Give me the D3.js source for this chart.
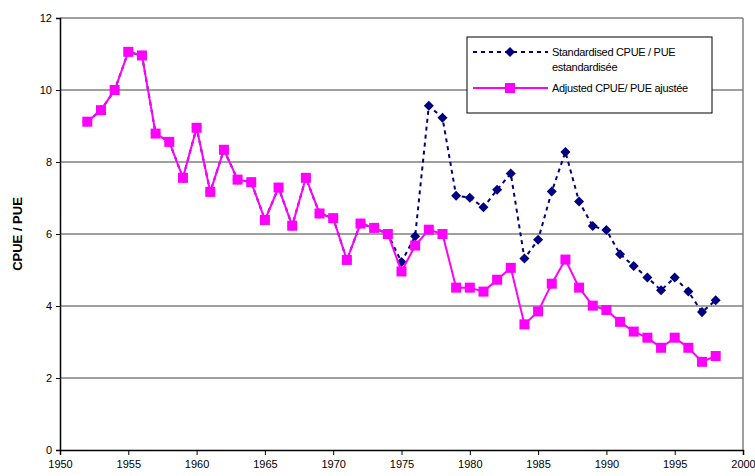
<!DOCTYPE html>
<html>
<head>
<meta charset="utf-8">
<script src="https://cdn.jsdelivr.net/npm/d3@7"></script>
<style>
  body { margin: 0; background: #fff; }
  text { font-family: "Liberation Sans", Arial, sans-serif; }
</style>
</head>
<body>
<div id="chart"></div>
<script>
// years 1952-1998
const years = d3.range(1952, 1999);

// standardised CPUE / PUE standardisée
const standardised = [
  9.12, 9.44, 10.0, 11.06, 10.96, 8.79, 8.56, 7.56, 8.95, 7.17,
  8.34, 7.51, 7.44, 6.39, 7.29, 6.23, 7.56, 6.57, 6.44, 5.28,
  6.29, 6.17, 6.0, 5.22, 5.94, 9.56, 9.23, 7.06, 7.01, 6.74,
  7.23, 7.68, 5.32, 5.84, 7.18, 8.28, 6.90, 6.22, 6.11, 5.44,
  5.11, 4.79, 4.44, 4.79, 4.40, 3.83, 4.16
];

// adjusted CPUE / PUE ajustée
const adjusted = [
  9.12, 9.44, 10.0, 11.06, 10.96, 8.79, 8.56, 7.56, 8.95, 7.17,
  8.34, 7.51, 7.44, 6.39, 7.29, 6.23, 7.56, 6.57, 6.44, 5.28,
  6.29, 6.17, 6.0, 4.96, 5.68, 6.12, 6.0, 4.51, 4.51, 4.40,
  4.73, 5.06, 3.49, 3.85, 4.62, 5.29, 4.51, 4.01, 3.89, 3.56,
  3.29, 3.12, 2.84, 3.12, 2.84, 2.45, 2.61
];

const xTicks = d3.range(1950, 2001, 5);
const yTicks = d3.range(0, 13, 2);

const width = 755, height = 476;
const margin = {top: 18, right: 12, bottom: 26, left: 60};
const w = width - margin.left - margin.right;
const h = height - margin.top - margin.bottom;

const svg = d3.select('#chart').append('svg')
  .attr('width', width)
  .attr('height', height);

const g = svg.append('g')
  .attr('transform', `translate(${margin.left},${margin.top})`);

const x = d3.scaleLinear().domain([1950, 2000]).range([0, w]);
const y = d3.scaleLinear().domain([0, 12]).range([h, 0]);

// gridlines
g.selectAll('line.grid')
  .data(yTicks.filter(d => d > 0))
  .join('line')
  .attr('class', 'grid')
  .attr('x1', 0).attr('x2', w)
  .attr('y1', d => y(d)).attr('y2', d => y(d))
  .attr('stroke', '#808080')
  .attr('stroke-width', 1.5);

// right border
g.append('line')
  .attr('x1', w).attr('x2', w)
  .attr('y1', 0).attr('y2', h)
  .attr('stroke', '#808080')
  .attr('stroke-width', 1.5);

// axes
const xAxis = g.append('g')
  .attr('transform', `translate(0,${h})`)
  .call(d3.axisBottom(x).tickValues(xTicks).tickFormat(d3.format('d')).tickSize(5).tickPadding(5));
const yAxis = g.append('g')
  .call(d3.axisLeft(y).tickValues(yTicks).tickSize(4).tickPadding(4));

[xAxis, yAxis].forEach(a => {
  a.select('.domain').attr('stroke', '#000').attr('stroke-width', 1.5);
  a.selectAll('.tick line').attr('stroke', '#000');
  a.selectAll('text')
    .attr('fill', '#000')
    .style('font-size', '11px')
    .style('font-family', '"Liberation Sans Narrow", "Liberation Sans", Arial, sans-serif');
});

// y axis title
svg.append('text')
  .attr('transform', `translate(22,${margin.top + h / 2}) rotate(-90)`)
  .attr('text-anchor', 'middle')
  .style('font-size', '13px')
  .style('font-weight', 'bold')
  .text('CPUE / PUE');

const line = d3.line()
  .x((d, i) => x(years[i]))
  .y(d => y(d));

// standardised series
g.append('path')
  .datum(standardised)
  .attr('d', line)
  .attr('fill', 'none')
  .attr('stroke', '#000080')
  .attr('stroke-width', 2)
  .attr('stroke-dasharray', '4,4');

const diamond = d3.symbol().type(d3.symbolDiamond2).size(64);

g.selectAll('path.std')
  .data(standardised)
  .join('path')
  .attr('class', 'std')
  .attr('d', diamond)
  .attr('transform', (d, i) => `translate(${x(years[i])},${y(d)})`)
  .attr('fill', '#000080');

// adjusted series
g.append('path')
  .datum(adjusted)
  .attr('d', line)
  .attr('fill', 'none')
  .attr('stroke', '#ff00ff')
  .attr('stroke-width', 2);

g.selectAll('rect.adj')
  .data(adjusted)
  .join('rect')
  .attr('class', 'adj')
  .attr('x', (d, i) => x(years[i]) - 5)
  .attr('y', d => y(d) - 5)
  .attr('width', 10)
  .attr('height', 10)
  .attr('fill', '#ff00ff');

// legend
const legend = svg.append('g').attr('transform', 'translate(467,37)');
legend.append('rect')
  .attr('width', 245).attr('height', 76)
  .attr('fill', '#fff')
  .attr('stroke', '#000')
  .attr('stroke-width', 1);

legend.append('line')
  .attr('x1', 6).attr('x2', 81).attr('y1', 15).attr('y2', 15)
  .attr('stroke', '#000080').attr('stroke-width', 2).attr('stroke-dasharray', '4,4');
legend.append('path')
  .attr('d', diamond)
  .attr('transform', 'translate(43,15)')
  .attr('fill', '#000080');
legend.append('text')
  .attr('x', 85).attr('y', 19)
  .style('font-size', '11px')
  .style('letter-spacing', '-0.3px')
  .text('Standardised CPUE /  PUE');
legend.append('text')
  .attr('x', 85).attr('y', 34)
  .style('font-size', '11px')
  .style('letter-spacing', '-0.3px')
  .text('estandardisée');

legend.append('line')
  .attr('x1', 6).attr('x2', 81).attr('y1', 51).attr('y2', 51)
  .attr('stroke', '#ff00ff').attr('stroke-width', 2);
legend.append('rect')
  .attr('x', 38).attr('y', 46).attr('width', 10).attr('height', 10)
  .attr('fill', '#ff00ff');
legend.append('text')
  .attr('x', 85).attr('y', 55)
  .style('font-size', '11px')
  .style('letter-spacing', '-0.3px')
  .text('Adjusted CPUE/  PUE ajustée');
</script>
</body>
</html>
